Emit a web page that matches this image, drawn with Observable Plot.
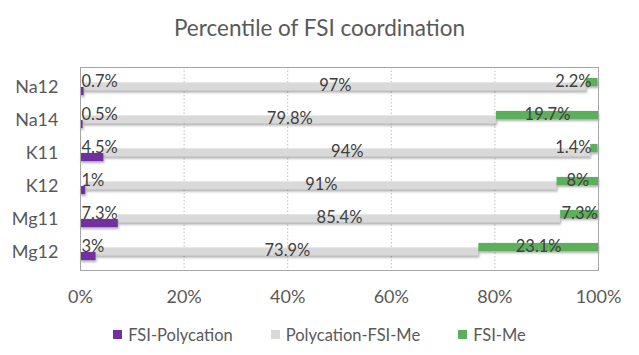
<!DOCTYPE html>
<html>
<head>
<meta charset="utf-8">
<script src="https://cdn.jsdelivr.net/npm/d3@7"></script>
<script src="https://cdn.jsdelivr.net/npm/@observablehq/plot@0.6"></script>
<style>
  html, body { margin: 0; padding: 0; background: #fff; }
  #wrap { width: 639px; height: 355px; font-family: Lato, sans-serif; color: #595959; overflow: hidden; }
  #title { height: 52px; box-sizing: border-box; padding-top: 5px; line-height: 46px; font-size: 22.5px; text-align: center; color: #595959; }
  #legend { height: 43px; box-sizing: border-box; padding-top: 2px; display: flex; justify-content: center; align-items: center; gap: 38px; font-size: 16.5px; color: #595959; }
  .item { display: flex; align-items: center; }
  .sw { width: 9px; height: 9px; margin-right: 6px; }
</style>
</head>
<body>
<div id="wrap">
  <div id="title">Percentile of FSI coordination</div>
  <div id="chart"></div>
  <div id="legend"></div>
</div>
<script>
const categories = ["Na12", "Na14", "K11", "K12", "Mg11", "Mg12"];
const seriesNames = ["FSI-Polycation", "Polycation-FSI-Me", "FSI-Me"];
const seriesColors = ["#7030A0", "#D9D9D9", "#5DAF5B"];
const fsiPolycation = [0.7, 0.5, 4.5, 1, 7.3, 3];
const polycationFsiMe = [97, 79.8, 94, 91, 85.4, 73.9];
const fsiMe = [2.2, 19.7, 1.4, 8, 7.3, 23.1];
const xTicks = [0, 20, 40, 60, 80, 100];

const seriesValues = [fsiPolycation, polycationFsiMe, fsiMe];
const rows = [];
categories.forEach((cat, i) => {
  let acc = 0;
  seriesValues.forEach((vals, s) => {
    const v = vals[i];
    rows.push({cat, series: seriesNames[s], s, value: v, x1: acc, x2: acc + v, mid: acc + v / 2});
    acc += v;
  });
});
const bySeries = s => rows.filter(d => d.s === s);
const fmt = d => d.value + "%";
const off = 4.5;
const inset = 12.4;

const chart = Plot.plot({
  width: 639,
  height: 260,
  marginTop: 15,
  marginBottom: 42,
  marginLeft: 80,
  marginRight: 41,
  style: {fontFamily: "Lato, sans-serif", fontSize: "18px", color: "#595959", background: "#fff"},
  x: {domain: [0, 100], ticks: xTicks, tickFormat: d => d + "%", tickSize: 0, tickPadding: 20, label: null},
  y: {domain: categories, padding: 0, tickSize: 0, tickPadding: 22, label: null},
  marks: [
    Plot.gridX(xTicks.slice(1, -1), {stroke: "#bfbfbf", strokeOpacity: 1, strokeDasharray: "1.5,2"}),
    Plot.barX(bySeries(1), {x1: "x1", x2: "x2", y: "cat", fill: seriesColors[1], insetTop: inset, insetBottom: inset, dy: 0}),
    Plot.barX(bySeries(2), {x1: "x1", x2: "x2", y: "cat", fill: seriesColors[2], insetTop: inset, insetBottom: inset, dy: -off}),
    Plot.barX(bySeries(0), {x1: "x1", x2: "x2", y: "cat", fill: seriesColors[0], insetTop: inset, insetBottom: inset, dy: off}),
    Plot.frame({stroke: "#a6a6a6"}),
    Plot.text(bySeries(0), {y: "cat", text: fmt, frameAnchor: "left", textAnchor: "start", dx: 1, dy: -off - 1, fontSize: 16.5, fill: "#404040"}),
    Plot.text(bySeries(1), {x: "mid", y: "cat", text: fmt, dy: -1.5, fontSize: 16.5, fill: "#404040"}),
    Plot.text(bySeries(2).filter(d => d.value >= 5), {x: "mid", y: "cat", text: fmt, dy: -off - 1, fontSize: 16.5, fill: "#404040"}),
    Plot.text(bySeries(2).filter(d => d.value < 5), {y: "cat", text: fmt, frameAnchor: "right", textAnchor: "end", dx: -7, dy: -off - 1, fontSize: 16.5, fill: "#404040"})
  ]
});
chart.querySelectorAll('g[aria-label="bar"]').forEach(g => {
  g.style.filter = "drop-shadow(1px 2px 1.2px rgba(0,0,0,0.3))";
});
document.getElementById("chart").appendChild(chart);

const legend = document.getElementById("legend");
seriesNames.forEach((name, i) => {
  const item = document.createElement("div");
  item.className = "item";
  const sw = document.createElement("div");
  sw.className = "sw";
  sw.style.background = seriesColors[i];
  const label = document.createElement("span");
  label.textContent = name;
  item.appendChild(sw);
  item.appendChild(label);
  legend.appendChild(item);
});
</script>
</body>
</html>
